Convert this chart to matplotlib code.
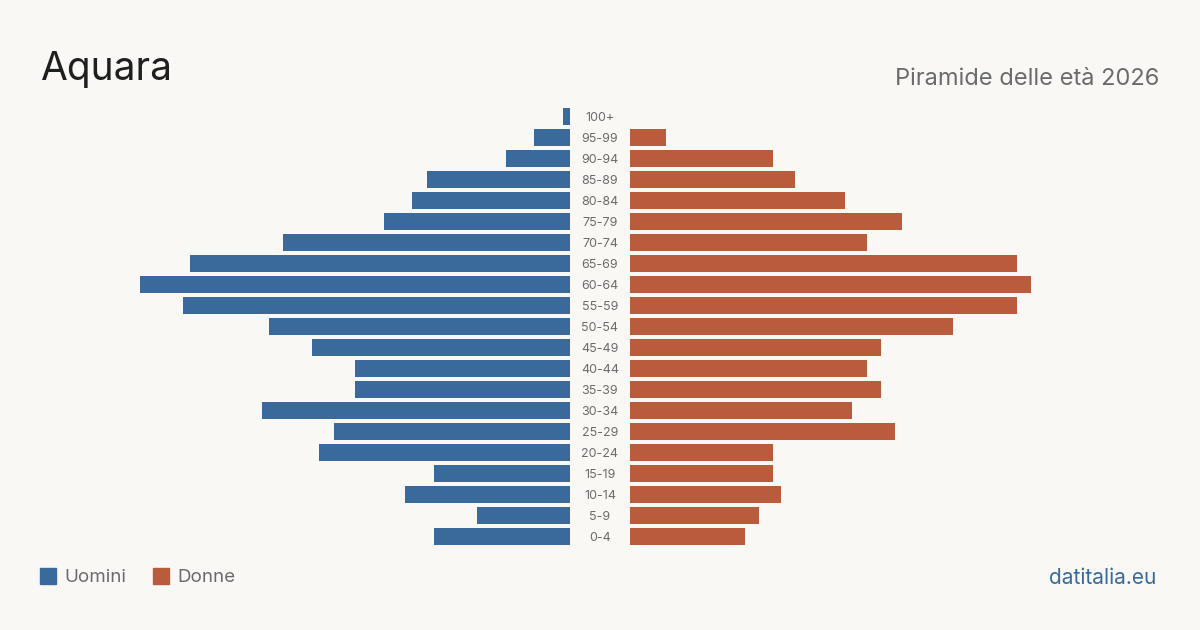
"""Population pyramid for Aquara (2026)."""
import matplotlib.pyplot as plt
from matplotlib.transforms import blended_transform_factory
from matplotlib.patches import Rectangle

plt.rcParams['font.family'] = ['Inter', 'DejaVu Sans']

age_groups = ['0-4', '5-9', '10-14', '15-19', '20-24', '25-29', '30-34',
              '35-39', '40-44', '45-49', '50-54', '55-59', '60-64', '65-69',
              '70-74', '75-79', '80-84', '85-89', '90-94', '95-99', '100+']
men = [19, 13, 23, 19, 35, 33, 43, 30, 30, 36, 42, 54, 60, 53, 40, 26, 22,
       20, 9, 5, 1]
women = [16, 18, 21, 20, 20, 37, 31, 35, 33, 35, 45, 54, 56, 54, 33, 38, 30,
         23, 20, 5, 0]

BG = '#f9f8f4'
BLUE = '#3a6a9b'
ORANGE = '#b95c3c'
GRAY = '#6b6b6b'

W, H = 1200, 630
fig = plt.figure(figsize=(12, 6.3), dpi=100, facecolor=BG)

y_bottom = 1 - 547 / H
y_height = (547 - 106) / H
ax_l = fig.add_axes([140 / W, y_bottom, 430 / W, y_height])
ax_r = fig.add_axes([630 / W, y_bottom, 430 / W, y_height])

ypos = list(range(len(age_groups)))
ax_l.barh(ypos, men, height=0.8, color=BLUE)
ax_r.barh(ypos, women, height=0.8, color=ORANGE)

for ax in (ax_l, ax_r):
    ax.set_ylim(-0.5, len(age_groups) - 0.5)
    ax.axis('off')
ax_l.set_xlim(60, 0)
ax_r.set_xlim(0, 60)

trans = blended_transform_factory(fig.transFigure, ax_l.transData)
for y, label in zip(ypos, age_groups):
    ax_l.text(600 / W, y - 0.05, label, transform=trans, ha='center',
              va='center', fontsize=9, color=GRAY, clip_on=False)

fig.text(40 / W, 1 - 80 / H, 'Aquara', fontsize=28, color='#1f1f1f',
         ha='left', va='baseline')
fig.text(1159 / W, 1 - 85 / H, 'Piramide delle età 2026', fontsize=17,
         color=GRAY, ha='right', va='baseline')

# legend
fig.patches.append(Rectangle((40 / W, 1 - 584 / H), 16 / W, 16 / H,
                             transform=fig.transFigure, color=BLUE))
fig.text(64 / W, 1 - 578 / H, 'Uomini', fontsize=13.5, color=GRAY,
         ha='left', va='center')
fig.patches.append(Rectangle((153 / W, 1 - 584 / H), 16 / W, 16 / H,
                             transform=fig.transFigure, color=ORANGE))
fig.text(177 / W, 1 - 578 / H, 'Donne', fontsize=13.5, color=GRAY,
         ha='left', va='center')

fig.text(1156 / W, 1 - 578 / H, 'datitalia.eu', fontsize=15, color=BLUE,
         ha='right', va='center')

fig.savefig('out.png', dpi=100, facecolor=BG)
